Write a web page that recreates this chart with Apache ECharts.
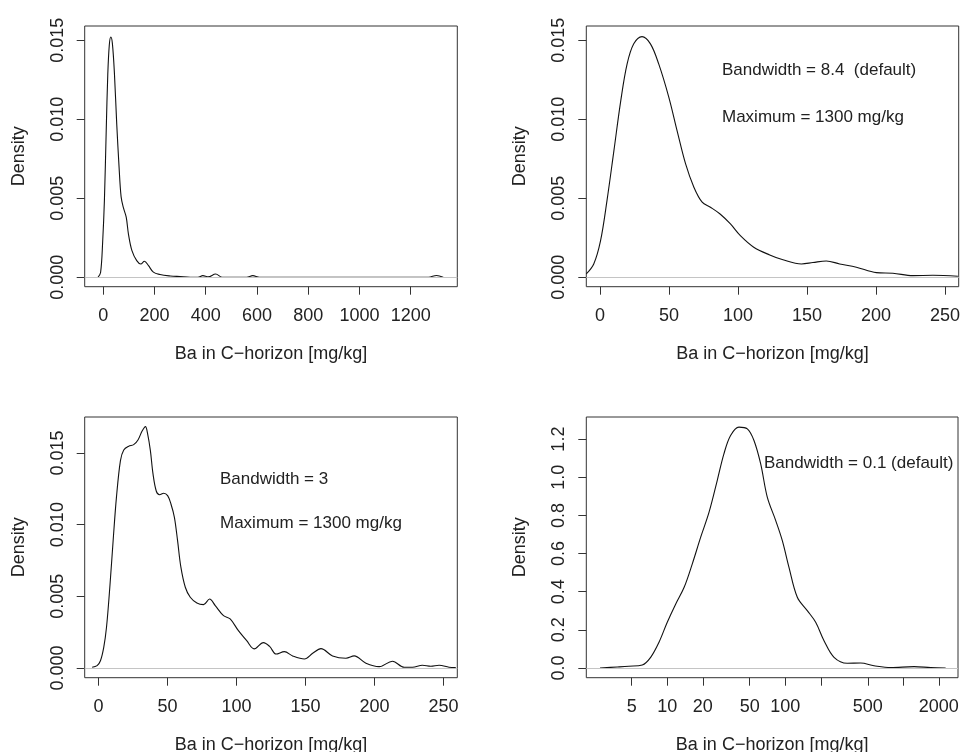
<!DOCTYPE html>
<html>
<head>
<meta charset="utf-8">
<script src="https://cdn.jsdelivr.net/npm/echarts@6/dist/echarts.min.js"></script>
<style>
  html, body { margin: 0; background: #fff; }
  #chart { width: 964px; height: 752px; }
</style>
</head>
<body>
<div id="chart"></div>
<script>
// density curves
// panel 1: full range, bandwidth 8.4
let x1 = [-20, -10, -2, 5, 12, 18, 24, 30, 36, 44, 53, 62, 70, 79, 90, 99, 112, 131, 147, 161, 177, 196, 222, 262, 300, 340, 370, 389, 410, 439, 465, 560, 584, 610, 1270, 1301, 1327]
let y1 = [0, 0.0003, 0.0022, 0.0049, 0.0093, 0.0128, 0.0147, 0.0152, 0.0148, 0.0129, 0.0097, 0.0070, 0.0051, 0.0044, 0.0038, 0.0027, 0.0017, 0.00105, 0.00084, 0.00101, 0.00073, 0.00032, 0.00017, 0.00008, 0.00004, 0, 0, 0.0001, 0.00002, 0.0002, 0, 0, 0.0001, 0, 0, 0.00011, 0]

// panel 2: same density, zoomed to 0-250
let x2 = [-10, -4.6, 0.3, 5, 10, 15, 19.6, 24.4, 30.4, 36.5, 42.5, 49.8, 55.8, 62, 68, 74, 80, 87, 94.5, 101.7, 111.4, 123, 132.6, 146, 154.3, 164, 173.7, 185.8, 200.3, 212.3, 226.8, 241.3, 259.4]
let y2 = [0.00021, 0.00084, 0.0023, 0.00485, 0.0080, 0.01118, 0.0135, 0.01477, 0.01523, 0.01477, 0.0135, 0.0114, 0.00928, 0.00717, 0.0057, 0.00475, 0.00443, 0.0040, 0.00337, 0.00263, 0.0019, 0.00141, 0.0011, 0.00084, 0.00093, 0.00103, 0.00084, 0.00063, 0.00029, 0.00025, 0.0001, 0.00012, 0.00006]

// panel 3: bandwidth 3
let x3 = [-4.6, -1, 1.4, 3.8, 5.8, 8.2, 10.6, 13, 15.9, 18.3, 21.9, 25.5, 28.6, 31.5, 34, 35.6, 37.6, 39.5, 41.9, 44.3, 47.2, 50.1, 52.5, 55, 57.3, 59.7, 62.9, 66.5, 71.3, 76.1, 80.5, 84.6, 90.6, 95.4, 101.4, 107.4, 112.8, 119.5, 124, 128.7, 134.7, 140.7, 149.2, 155.2, 161.2, 169.6, 179.3, 185.3, 193.8, 203.4, 213, 221.5, 227.5, 234.7, 240.8, 246.8, 254, 258.9]
let y3 = [0.00005, 0.00016, 0.0005, 0.00144, 0.00284, 0.00563, 0.00888, 0.0119, 0.01447, 0.01521, 0.01547, 0.01558, 0.01591, 0.01651, 0.01684, 0.01633, 0.01516, 0.01354, 0.01233, 0.01209, 0.01219, 0.01202, 0.01144, 0.01051, 0.00888, 0.00703, 0.00563, 0.00493, 0.00453, 0.00442, 0.00481, 0.00435, 0.00365, 0.00342, 0.0026, 0.0019, 0.00133, 0.00177, 0.0015, 0.00097, 0.00114, 0.00084, 0.00063, 0.00102, 0.00135, 0.00084, 0.00068, 0.00084, 0.00033, 0.00009, 0.00047, 0.00005, 0.00005, 0.00019, 0.00012, 0.00019, 0.00005, 0.00002]

// panel 4: log scale, bandwidth 0.1
let x4 = [2.69, 3.77, 4.73, 6.14, 7.23, 8.51, 10, 11.8, 13.9, 16.3, 19.2, 22.6, 26.5, 30.2, 34.4, 40.5, 47.7, 54.3, 61.9, 70.4, 83, 94.4, 107.5, 126.5, 153.6, 181, 213, 259, 335, 435, 565, 782, 1233, 1706, 2286]
let y4 = [0, 0.005, 0.009, 0.016, 0.056, 0.135, 0.24, 0.336, 0.423, 0.546, 0.686, 0.817, 0.983, 1.123, 1.219, 1.263, 1.254, 1.193, 1.07, 0.896, 0.773, 0.668, 0.528, 0.371, 0.301, 0.24, 0.143, 0.056, 0.025, 0.026, 0.012, 0.002, 0.007, 0.002, 0]

// ticks
let xTicks1 = [0, 200, 400, 600, 800, 1000, 1200]
let xTicks2 = [0, 50, 100, 150, 200, 250]
let xTicksLog = [5, 10, 20, 50, 100, 200, 500, 1000, 2000]
let xLabelsLog = [5, 10, 20, 50, 100, 500, 2000]
let yTicksSmall = [0, 0.005, 0.010, 0.015]
let yTicks4 = [0, 0.2, 0.4, 0.6, 0.8, 1.0, 1.2]
let xlimLog = [2.06, 2909]

let xTitle = 'Ba in C\u2212horizon [mg/kg]'
let yTitle = 'Density'

const FONT = '"Liberation Sans", Arial, Helvetica, sans-serif'
const INK = '#222'

function grid(left, top, width, height) {
    return {
        left, top, width, height,
        show: true, borderColor: '#333', borderWidth: 1,
        containLabel: false, outerBoundsMode: 'none'
    }
}

function xAxis(i, min, max, ticks, labels, fmt) {
    return {
        type: 'value', gridIndex: i, min: min, max: max,
        name: xTitle, nameLocation: 'middle', nameGap: 58,
        nameTextStyle: {fontFamily: FONT, fontSize: 18, color: INK},
        axisLine: {show: false, onZero: false},
        axisTick: {show: true, length: 8, lineStyle: {color: '#333'}, customValues: ticks},
        axisLabel: {margin: 20, fontFamily: FONT, fontSize: 18, color: INK, customValues: labels, formatter: fmt},
        splitLine: {show: false}
    }
}

function yAxis(i, min, max, ticks, digits) {
    return {
        type: 'value', gridIndex: i, min: min, max: max,
        name: yTitle, nameLocation: 'middle', nameGap: 57,
        nameTextStyle: {fontFamily: FONT, fontSize: 18, color: INK},
        axisLine: {show: false, onZero: false},
        axisTick: {show: true, length: 8, lineStyle: {color: '#333'}, customValues: ticks},
        axisLabel: {
            margin: 18, rotate: 90, fontFamily: FONT, fontSize: 18, color: INK,
            customValues: ticks, formatter: v => Number(v).toFixed(digits)
        },
        splitLine: {show: false}
    }
}

function curve(i, xs, ys) {
    return {
        type: 'line', xAxisIndex: i, yAxisIndex: i,
        data: xs.map((x, k) => [x, ys[k]]),
        showSymbol: false, smooth: 0.35, silent: true,
        lineStyle: {color: '#111', width: 1.1},
        markLine: {
            silent: true, symbol: 'none', label: {show: false},
            lineStyle: {color: '#c4c4c4', type: 'solid', width: 1},
            data: [{yAxis: 0}]
        }
    }
}

function note(x, y, text) {
    return {
        type: 'text', x: x, y: y,
        style: {text: text, font: '17px ' + FONT, fill: INK, verticalAlign: 'middle'}
    }
}

let log10 = v => Math.log10(v)
let fmtInt = v => String(Math.round(v))
let fmtLog = v => String(Math.round(Math.pow(10, v)))

let chart = echarts.init(document.getElementById('chart'))
chart.setOption({
    animation: false,
    backgroundColor: '#fff',
    grid: [
        grid(84.7, 26, 372.6, 260.7),
        grid(586.3, 26, 372.4, 260.7),
        grid(84.7, 417, 372.6, 260.7),
        grid(586.3, 417, 371.7, 260.7)
    ],
    xAxis: [
        xAxis(0, -72, 1382, xTicks1, xTicks1, fmtInt),
        xAxis(1, -10, 260, xTicks2, xTicks2, fmtInt),
        xAxis(2, -10, 260, xTicks2, xTicks2, fmtInt),
        xAxis(3, log10(xlimLog[0]), log10(xlimLog[1]), xTicksLog.map(log10), xLabelsLog.map(log10), fmtLog)
    ],
    yAxis: [
        yAxis(0, -0.0006, 0.0159, yTicksSmall, 3),
        yAxis(1, -0.0006, 0.0159, yTicksSmall, 3),
        yAxis(2, -0.00068, 0.01751, yTicksSmall, 3),
        yAxis(3, -0.0509, 1.316, yTicks4, 1)
    ],
    series: [
        curve(0, x1, y1),
        curve(1, x2, y2),
        curve(2, x3, y3),
        curve(3, x4.map(log10), y4)
    ],
    graphic: [
        note(722, 70, 'Bandwidth = 8.4  (default)'),
        note(722, 117, 'Maximum = 1300 mg/kg'),
        note(220, 479, 'Bandwidth = 3'),
        note(220, 523, 'Maximum = 1300 mg/kg'),
        note(764, 463, 'Bandwidth = 0.1 (default)')
    ]
})
</script>
</body>
</html>
